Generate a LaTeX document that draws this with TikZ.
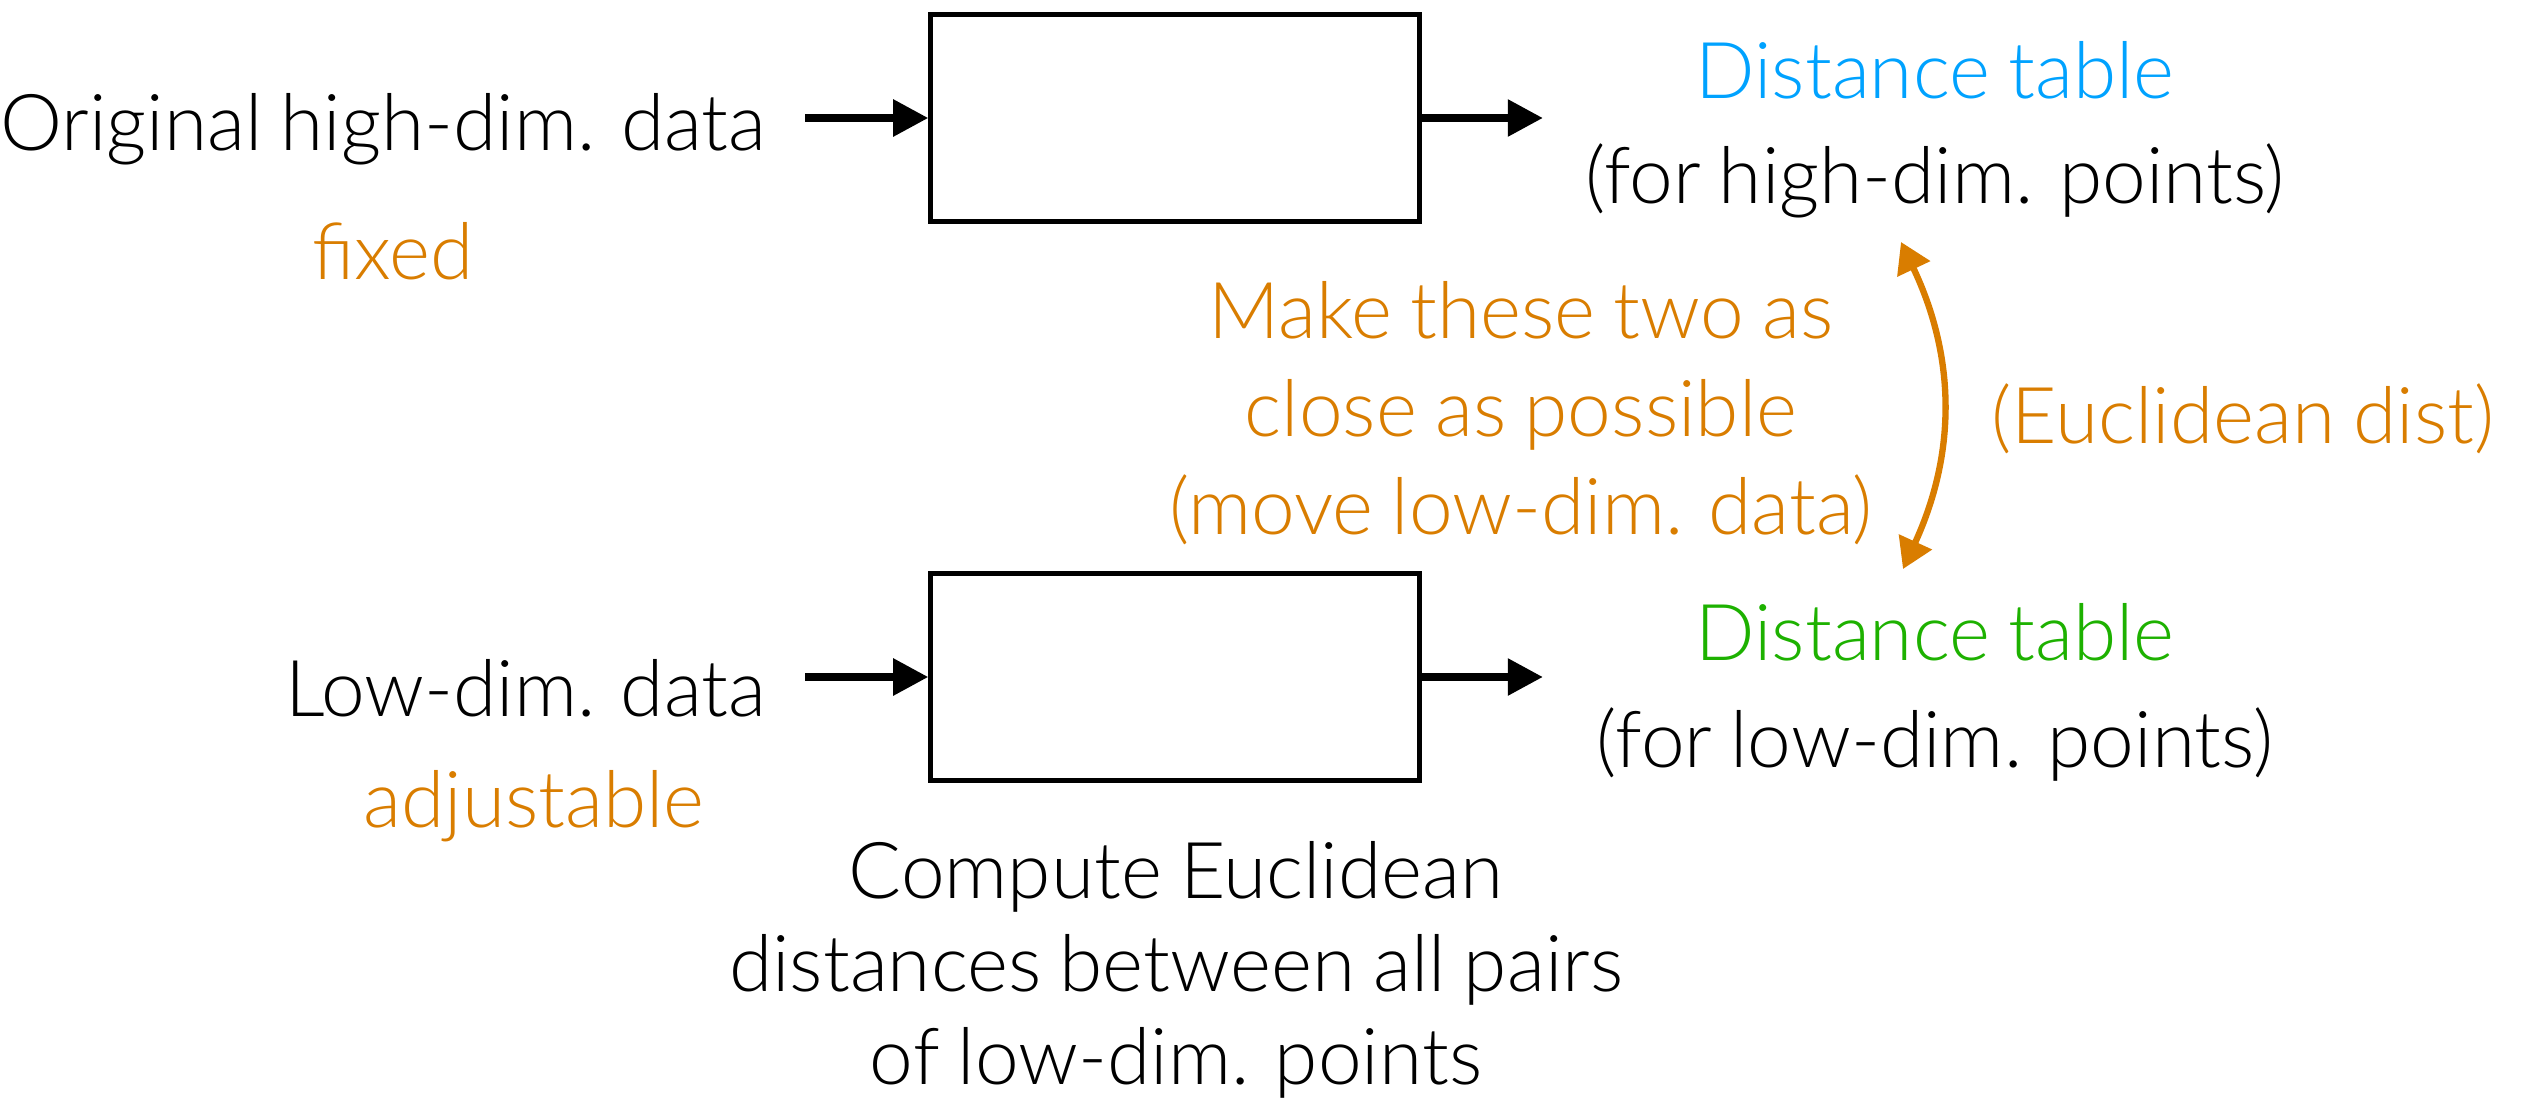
\documentclass[tikz,border=0pt]{standalone}
\usepackage{fontspec}
\setmainfont{Lato Light}[WordSpace=0.85]
\usetikzlibrary{arrows.meta}
\definecolor{ink}{HTML}{000000}
\definecolor{note}{HTML}{D97D00}
\definecolor{high}{HTML}{00A2FF}
\definecolor{low}{HTML}{1DB100}

\begin{document}
\begin{tikzpicture}[x=0.01cm,y=-0.01cm,
  font=\fontsize{22.3}{27}\selectfont, text=ink,
  flow/.style={-{Triangle[length=10pt,width=10pt]}, line width=2.3pt, draw=ink},
  match/.style={{Triangle[length=8.5pt,width=10pt]}-{Triangle[length=8.5pt,width=10pt]},
                line width=1.8pt, draw=note},
  proc/.style={draw=ink, line width=1.4pt, minimum width=4.88cm, minimum height=2.07cm,
               inner sep=0pt},
  txt/.style={inner sep=0pt, anchor=base}]

\path[use as bounding box] (0,0) rectangle (2533,1106);

% ------------------------------------------------------------ high-dim. row
\node[txt, anchor=base east] (orig) at (767,150) {Original high-dim. data};
\node[txt, text=note] (fixed) at (393,279) {fixed};
\node[proc] (boxA) at (1175,118) {};
\node[txt, text=high] (hightab) at (1935,98) {Distance table};
\node[txt] (highsub) at (1935,203) {(for high-dim. points)};
\coordinate (outA) at (1543,118);
\draw[flow, shorten <=0.38cm] (orig.east |- boxA) -- (boxA.west);
\draw[flow] (boxA.east) -- (outA);

% ------------------------------------------------------------- low-dim. row
\node[txt, anchor=base east] (lowdata) at (767,716) {Low-dim. data};
\node[txt, text=note] (adjust) at (534,827) {adjustable};
\node[proc] (boxB) at (1175,677) {};
\node[txt, text=low] (lowtab) at (1935,660) {Distance table};
\node[txt] (lowsub) at (1935,767) {(for low-dim. points)};
\coordinate (outB) at (1543,677);
\draw[flow, shorten <=0.38cm] (lowdata.east |- boxB) -- (boxB.west);
\draw[flow] (boxB.east) -- (outB);

% base of a multi-line node = its last line
\node[txt, align=center, font=\fontsize{22.3}{26.4}\selectfont] (compute) at (1176,1084)
  {Compute Euclidean\\distances between all pairs\\of low-dim. points};

% compare the two tables
\node[txt, align=center, text=note, font=\fontsize{22.3}{27.8}\selectfont] (goal) at (1521,534)
  {Make these two as\\close as possible\\(move low-dim. data)};
\node[txt, text=note] (eucl) at (2243,443) {(Euclidean dist)};
\coordinate (tipH) at (1901,242);
\coordinate (tipL) at (1903,569);
\draw[match] (tipH) to[bend left=25] (tipL);
\end{tikzpicture}
\end{document}
